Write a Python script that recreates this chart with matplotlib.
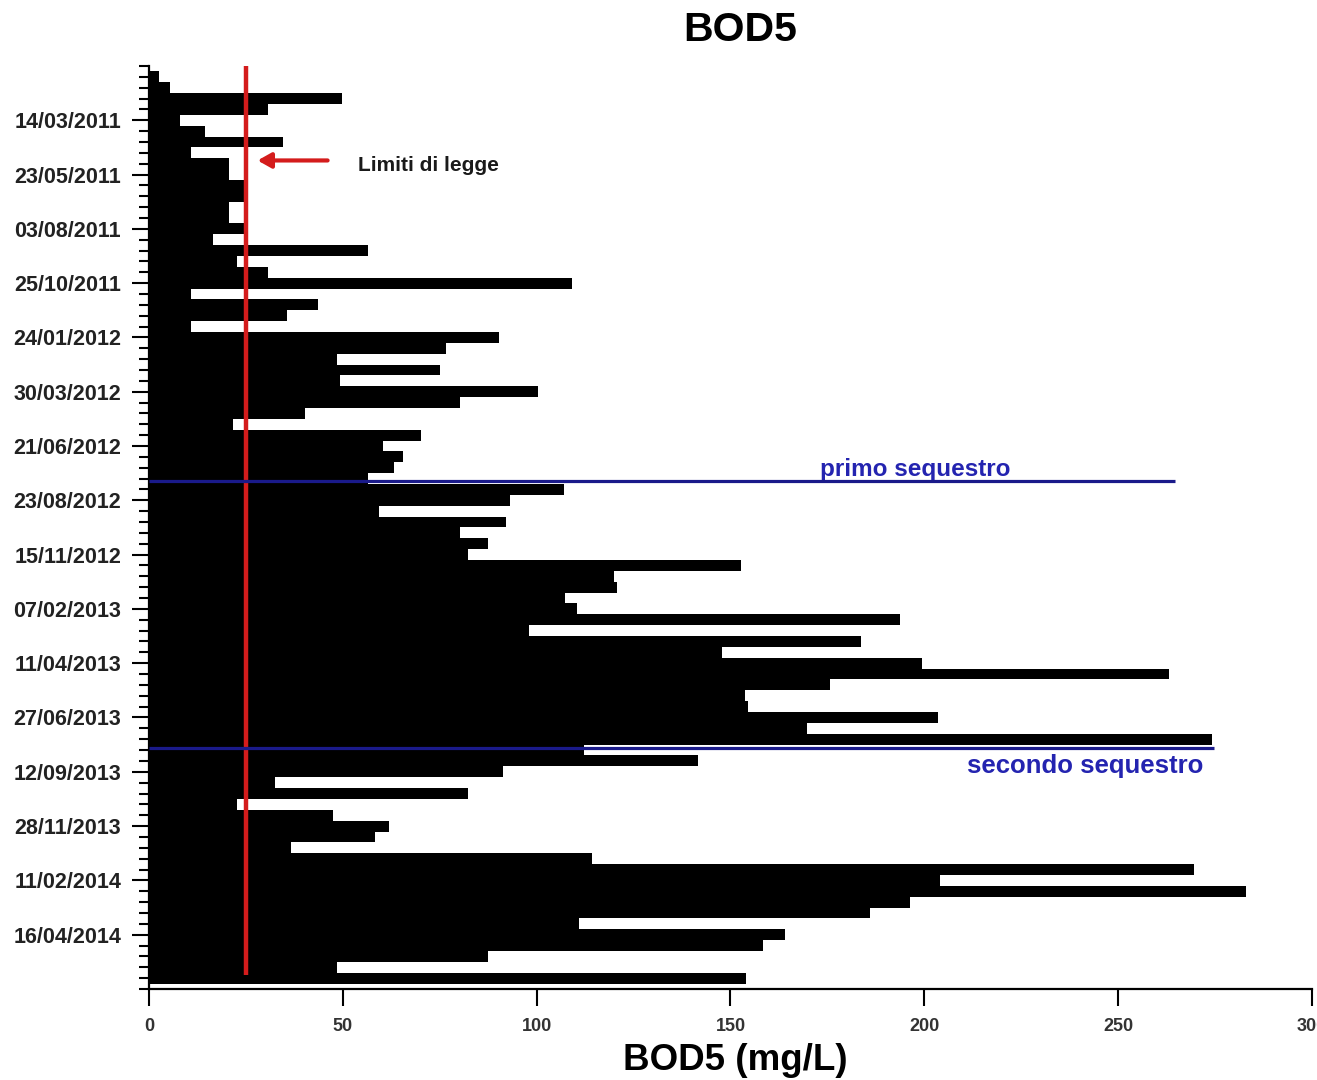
import numpy as np
import matplotlib
matplotlib.use("Agg")
import matplotlib.pyplot as plt

plt.rcParams['font.family'] = ['Liberation Sans', 'DejaVu Sans']

# BOD5 samples, in order (top = oldest)
bod5 = [
    2.6, 5.5, 49.7, 30.7, 7.9, 14.5, 34.7, 10.8, 20.7, 20.7,
    24.6, 24.6, 20.7, 20.7, 24.6, 16.5, 56.5, 22.7, 30.7, 109.0,
    10.8, 43.5, 35.5, 10.8, 90.3, 76.5, 48.4, 75.1, 49.4, 100.4,
    80.3, 40.3, 21.7, 70.3, 60.3, 65.5, 63.1, 56.5, 107.0, 93.1,
    59.3, 92.2, 80.3, 87.5, 82.2, 152.6, 119.9, 120.8, 107.2, 110.5,
    193.6, 98.0, 183.6, 147.9, 199.4, 263.1, 175.7, 153.7, 154.5, 203.6,
    169.8, 274.1, 112.1, 141.7, 91.4, 32.6, 82.2, 22.7, 47.4, 62.0,
    58.4, 36.6, 114.4, 269.5, 204.1, 283.1, 196.2, 185.9, 110.8, 164.1,
    158.5, 87.4, 48.5, 154.1,
]
date_labels = [
    "14/03/2011", "23/05/2011", "03/08/2011", "25/10/2011",
    "24/01/2012", "30/03/2012", "21/06/2012", "23/08/2012",
    "15/11/2012", "07/02/2013", "11/04/2013", "27/06/2013",
    "12/09/2013", "28/11/2013", "11/02/2014", "16/04/2014",
]
limit = 25
seizure_names = ["primo sequestro", "secondo sequestro"]
seizure_pos = [37.2, 61.8]
seizure_end = [264.6, 274.6]

n = len(bod5)
idx = np.arange(n)

fig = plt.figure(figsize=(13.17, 10.8), dpi=100)
ax = fig.add_axes([0.1131, 0.0843, 0.8831, 0.8546])

ax.barh(idx, bod5, height=1.0, color='black', linewidth=0, antialiased=False, zorder=2)

# legal limit
ax.plot([limit, limit], [-1.05, 82.7], color='#d41c1c', lw=3.2, zorder=4, solid_capstyle='butt')
ax.annotate("", xy=(27.3, 7.7), xytext=(46.8, 7.7),
            arrowprops=dict(arrowstyle='-|>,head_length=0.8,head_width=0.45',
                            color='#d41c1c', lw=3), zorder=5)
ax.text(53.8, 8.2, "Limiti di legge", fontsize=15, fontweight='bold',
        color='#1a1a1a', va='center', ha='left')

# seizures
for name, pos, end in zip(seizure_names, seizure_pos, seizure_end):
    ax.plot([0, end], [pos, pos], color='#1a1a8a', lw=2.3, zorder=4, solid_capstyle='butt')
ax.text(173, 36.75, seizure_names[0], fontsize=17.5, fontweight='bold',
        color='#2424b0', ha='left', va='baseline')
ax.text(211, 64.1, seizure_names[1], fontsize=18.5, fontweight='bold',
        color='#2424b0', ha='left', va='baseline')

ax.set_xlim(0, 300)
ax.set_ylim(84, -1)

major_pos = np.arange(4, n, 5)[:len(date_labels)]
ax.set_yticks(major_pos)
ax.set_yticklabels(date_labels, fontsize=15.5, fontweight='bold', color='#222222')
ax.set_yticks(np.arange(-1, 85), minor=True)
ax.tick_params(axis='y', which='major', direction='out', length=12, width=1.5, pad=8)
ax.tick_params(axis='y', which='minor', direction='out', length=7, width=1.5)

ax.set_xticks(np.arange(0, 301, 50))
ax.set_xticklabels([str(v) for v in range(0, 301, 50)], fontsize=13,
                   fontweight='bold', color='#333333')
ax.tick_params(axis='x', which='major', direction='out', length=12, width=1.5, pad=9)

for s in ['top', 'right']:
    ax.spines[s].set_visible(False)
for s in ['left', 'bottom']:
    ax.spines[s].set_linewidth(1.6)

fig.text(0.562, 0.972, "BOD5", fontsize=29.5, fontweight='bold', ha='center', va='center')
fig.text(0.558, 0.0185, "BOD5 (mg/L)", fontsize=26.5, fontweight='bold', ha='center', va='center')

fig.savefig("out.png", dpi=100)
